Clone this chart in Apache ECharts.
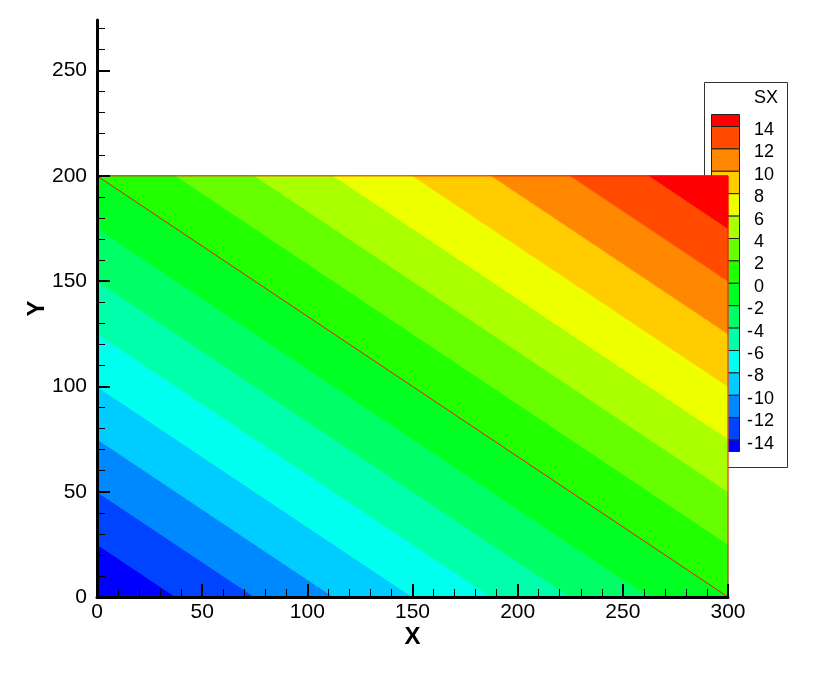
<!DOCTYPE html>
<html>
<head>
<meta charset="utf-8">
<script src="https://cdn.jsdelivr.net/npm/echarts@6/dist/echarts.min.js"></script>
<style>
  html, body { margin: 0; padding: 0; background: #fff; }
  #main { width: 820px; height: 673px; }
</style>
</head>
<body>
<div id="main"></div>
<script>
// contour levels shown in the legend
var levels = [-14, -12, -10, -8, -6, -4, -2, 0, 2, 4, 6, 8, 10, 12, 14];
// flood colours, lowest band first (below -14 ... above 14)
var bandColors = [
    '#0000ff', '#0044ff', '#0088ff', '#00ccff',
    '#00ffee', '#00ffaa', '#00ff66', '#00ff22',
    '#22ff00', '#66ff00', '#aaff00', '#eeff00',
    '#ffcc00', '#ff8800', '#ff4a00', '#ff0000'
];
// domain corners and SX value read at each corner
var cornerX = [0, 300, 300, 0];
var cornerY = [0, 0, 200, 200];
var cornerSX = [-16, 0, 16, 0];
// red mesh line and zone edge
var diagX = [0, 300];
var diagY = [200, 0];
var edgeX = [0, 300, 300];
var edgeY = [200, 200, 0];
// axis ticks
var xTicks = [0, 50, 100, 150, 200, 250, 300];
var yTicks = [0, 50, 100, 150, 200, 250];

// 保留 sign*(sx-level) >= 0 的部分
function clipHalf(poly, level, sign) {
    var out = [];
    for (var i = 0; i < poly.length; i++) {
        var a = poly[i], b = poly[(i + 1) % poly.length];
        var ina = sign * (a[2] - level) >= 0;
        var inb = sign * (b[2] - level) >= 0;
        if (ina) out.push(a);
        if (ina !== inb) {
            var t = (level - a[2]) / (b[2] - a[2]);
            out.push([a[0] + t * (b[0] - a[0]), a[1] + t * (b[1] - a[1]), level]);
        }
    }
    return out;
}

function bandPolygon(k) {
    var poly = cornerX.map(function (x, i) { return [x, cornerY[i], cornerSX[i]]; });
    if (k > 0) poly = clipHalf(poly, levels[k - 1], 1);
    if (k < levels.length) poly = clipHalf(poly, levels[k], -1);
    return poly;
}

// legend (Tecplot style)
function buildLegend() {
    var top = 114, first = 126, step = 22.4, bottom = 451;
    var edges = [top];
    for (var i = 0; i < levels.length; i++) edges.push(first + i * step);
    edges.push(bottom);
    var children = [{
        type: 'rect',
        shape: { x: 704.5, y: 82.5, width: 83, height: 385 },
        style: { fill: '#fff', stroke: '#333', lineWidth: 1 }
    }, {
        type: 'text',
        style: { x: 766, y: 98, text: 'SX', fontSize: 18, fontFamily: 'Liberation Sans, Arial', fill: '#000', align: 'center', verticalAlign: 'middle' }
    }];
    var n = bandColors.length;
    for (var k = 0; k < n; k++) {
        children.push({
            type: 'rect',
            shape: { x: 711.5, y: edges[k] + 0.5, width: 28, height: edges[k + 1] - edges[k] },
            style: { fill: bandColors[n - 1 - k], stroke: '#222', lineWidth: 1 }
        });
    }
    for (var j = 0; j < levels.length; j++) {
        var v = levels[levels.length - 1 - j];
        var yy = edges[j + 1] + 4;
        children.push({
            type: 'text',
            style: { x: 754, y: yy, text: String(Math.abs(v)), fontSize: 18, fontFamily: 'Liberation Sans, Arial', fill: '#000', align: 'left', verticalAlign: 'middle' }
        });
        if (v < 0) {
            children.push({
                type: 'text',
                style: { x: 753, y: yy, text: '-', fontSize: 18, fontFamily: 'Liberation Sans, Arial', fill: '#000', align: 'right', verticalAlign: 'middle' }
            });
        }
    }
    return [{ type: 'group', z: 100, children: children }];
}

var chart = echarts.init(document.getElementById('main'));

var axisCommon = {
    type: 'value',
    z: 5,
    splitLine: { show: false },
    axisLine: { onZero: false, lineStyle: { color: '#000', width: 3 } },
    axisTick: { inside: true, length: 13, lineStyle: { color: '#000', width: 2 } },
    minorTick: { show: true, splitNumber: 5, length: 8, lineStyle: { color: '#000', width: 1 } },
    axisLabel: { color: '#000', fontSize: 21, fontFamily: 'Liberation Sans, Arial' },
    nameLocation: 'middle',
    nameMoveOverlap: false,
    nameTextStyle: { color: '#000', fontSize: 24, fontWeight: 'bold', fontFamily: 'Liberation Sans, Arial' }
};

chart.setOption({
    animation: false,
    backgroundColor: '#fff',
    grid: { left: 97, right: 92, top: 20, bottom: 76 },
    xAxis: echarts.util.merge({
        min: 0, max: 300, interval: 50,
        name: 'X', nameGap: 28,
        axisTick: { customValues: xTicks },
        axisLabel: { margin: 5, customValues: xTicks }
    }, axisCommon),
    yAxis: echarts.util.merge({
        min: 0, max: 274, interval: 50,
        name: 'Y', nameGap: 48,
        axisTick: { customValues: yTicks },
        axisLabel: { margin: 10, customValues: yTicks }
    }, axisCommon),
    graphic: buildLegend(),
    series: [{
        type: 'custom',
        silent: true,
        data: bandColors.map(function (c, i) { return i; }),
        renderItem: function (params, api) {
            var k = params.dataIndex;
            var poly = bandPolygon(k);
            if (poly.length < 3) return null;
            return {
                type: 'polygon',
                shape: { points: poly.map(function (p) { return api.coord([p[0], p[1]]); }) },
                style: { fill: bandColors[k], stroke: bandColors[k], lineWidth: 0.8 }
            };
        }
    }, {
        type: 'line',
        silent: true,
        symbol: 'none',
        data: diagX.map(function (x, i) { return [x, diagY[i]]; }),
        lineStyle: { color: '#ee1111', width: 1 }
    }, {
        type: 'line',
        silent: true,
        symbol: 'none',
        data: edgeX.map(function (x, i) { return [x, edgeY[i]]; }),
        lineStyle: { color: '#ee1111', width: 1 }
    }]
});
</script>
</body>
</html>
